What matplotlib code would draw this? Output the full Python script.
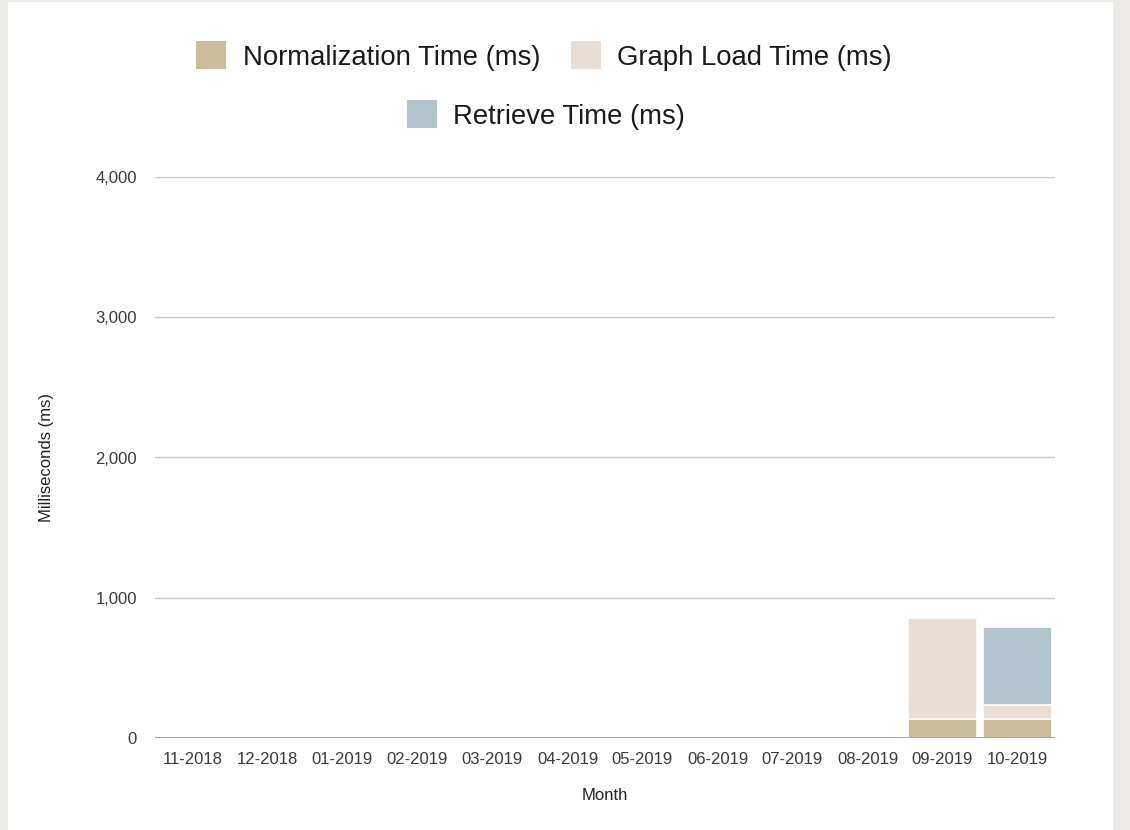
import matplotlib
matplotlib.use("Agg")
import matplotlib.pyplot as plt
from matplotlib.patches import Rectangle, Patch
import numpy as np

months = ["11-2018", "12-2018", "01-2019", "02-2019", "03-2019", "04-2019",
          "05-2019", "06-2019", "07-2019", "08-2019", "09-2019", "10-2019"]
normalization = [0, 0, 0, 0, 0, 0, 0, 0, 0, 0, 135, 135]
graph_load = [0, 0, 0, 0, 0, 0, 0, 0, 0, 0, 720, 100]
retrieve = [0, 0, 0, 0, 0, 0, 0, 0, 0, 0, 0, 556]
series_names = ["Normalization Time (ms)", "Graph Load Time (ms)", "Retrieve Time (ms)"]
colors = ["#c9bd9c", "#e7ddd4", "#b1c4cb"]
yticks = [0, 1000, 2000, 3000, 4000]

plt.rcParams['font.family'] = ['Liberation Sans', 'DejaVu Sans']

fig = plt.figure(figsize=(11.3, 8.3), dpi=100)
fig.patch.set_facecolor("#ecebe7")
bg = Rectangle((8/1130, 0), 1105/1130, 828/830, transform=fig.transFigure,
               facecolor="white", edgecolor="none", zorder=-10)
fig.add_artist(bg)

ax = fig.add_axes([155/1130, 1-738/830, 900/1130, (738-177)/830])
ax.set_zorder(5)
ax.set_facecolor("none")
x = np.arange(len(months))
w = 0.93
b1 = np.array(normalization, dtype=float)
b2 = b1 + np.array(graph_load, dtype=float)
ax.bar(x, normalization, w, color=colors[0], edgecolor="white", linewidth=1.2, zorder=3)
ax.bar(x, graph_load, w, bottom=b1, color=colors[1], edgecolor="white", linewidth=1.2, zorder=3)
ax.bar(x, retrieve, w, bottom=b2, color=colors[2], edgecolor="white", linewidth=1.2, zorder=3)

ax.set_xlim(-0.5, len(months) - 0.5)
ax.set_ylim(0, 4000)
ax.set_yticks(yticks)
ax.set_yticklabels([f"{v:,}" for v in yticks])
ax.set_xticks(x)
ax.set_xticklabels(months)
ax.tick_params(length=0, labelsize=12, colors="#3a3a3a")
ax.tick_params(axis='y', pad=13)
ax.tick_params(axis='x', pad=10)
for s in ax.spines.values():
    s.set_visible(False)
ax.grid(axis='y', color="#c8c8c8", linewidth=1, zorder=1)
ax.axhline(0, color="#9a9a9a", linewidth=1.2, zorder=4)

ax.set_ylabel("Milliseconds (ms)", fontsize=12, color="#222222", labelpad=30)
ax.set_xlabel("Month", fontsize=12, color="#222222", labelpad=15)

handles = [Patch(facecolor=c, edgecolor="none") for c in colors]
leg_kw = dict(frameon=False, fontsize=19.8, handlelength=1.1, handleheight=1.2,
              handletextpad=0.6, columnspacing=1.1, loc="center")
l1 = fig.legend(handles[:2], series_names[:2], ncol=2, bbox_to_anchor=(544/1130, 1-56/830), **leg_kw)
l2 = fig.legend(handles[2:], series_names[2:], ncol=1, bbox_to_anchor=(546/1130, 1-115/830), **leg_kw)
for lg in (l1, l2):
    for t in lg.get_texts():
        t.set_color("#1a1a1a")

fig.savefig("out.png", dpi=100, facecolor=fig.get_facecolor())
